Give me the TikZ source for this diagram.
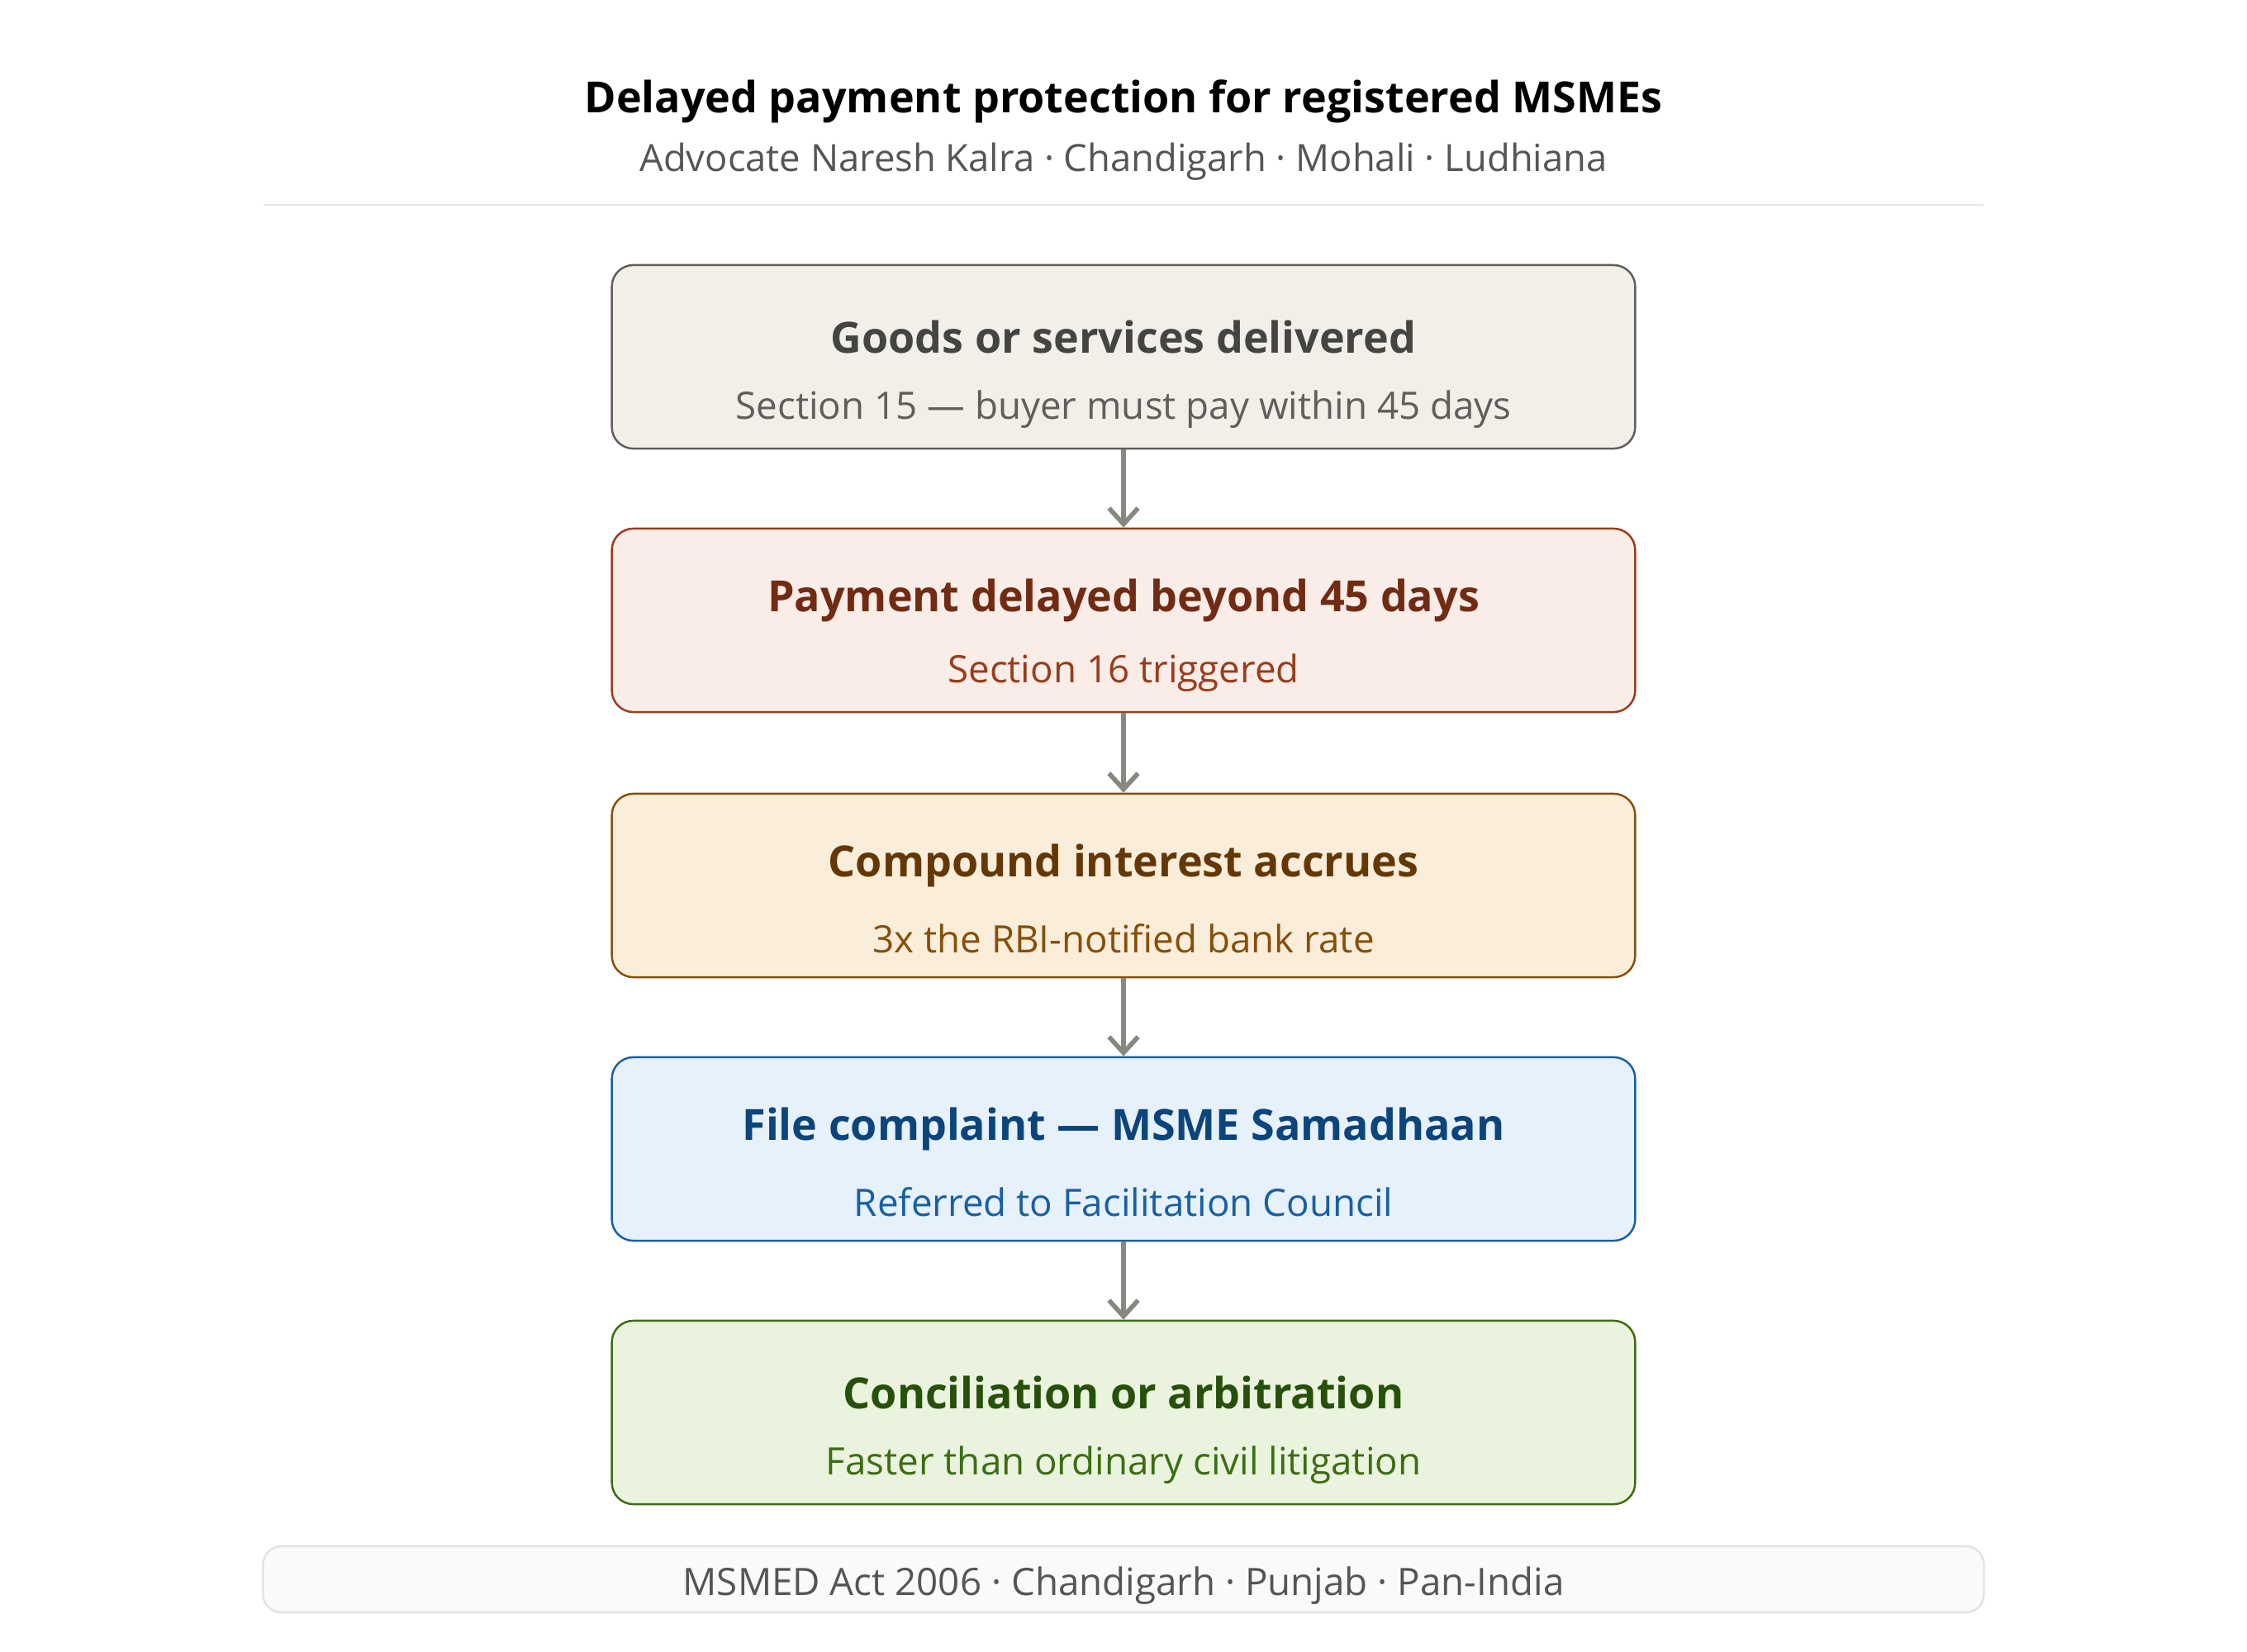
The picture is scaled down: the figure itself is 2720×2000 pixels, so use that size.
\documentclass[tikz,border=0pt]{standalone}
\usepackage{fontspec}
\setmainfont{Open Sans}
\usetikzlibrary{arrows.meta}
\definecolor{f1}{HTML}{F1EFE8}\definecolor{b1}{HTML}{5F5E5A}\definecolor{t1}{HTML}{444441}
\definecolor{f2}{HTML}{FAECE7}\definecolor{b2}{HTML}{993C1D}\definecolor{t2}{HTML}{712B13}
\definecolor{f3}{HTML}{FAEEDA}\definecolor{b3}{HTML}{854F0B}\definecolor{t3}{HTML}{633806}
\definecolor{f4}{HTML}{E6F1FB}\definecolor{b4}{HTML}{185FA5}\definecolor{t4}{HTML}{0C447C}
\definecolor{f5}{HTML}{EAF3DE}\definecolor{b5}{HTML}{3B6D11}\definecolor{t5}{HTML}{27500A}
\definecolor{arr}{HTML}{888780}
\definecolor{sub}{HTML}{555555}
\tikzset{
  x=0.01cm,y=-0.01cm,
  stepbox/.style={draw, rounded corners=0.26cm, line width=0.7pt, minimum width=12.38cm, minimum height=2.22cm, inner sep=0pt},
  boxtitle/.style={font=\fontsize{14.8}{18}\selectfont\bfseries},
  boxsub/.style={font=\fontsize{13}{15}\selectfont},
  flow/.style={draw=arr, line width=1.6pt, -{Straight Barb[length=5.5pt,width=10pt,line width=1.6pt]}}
}
\begin{document}
\begin{tikzpicture}
\useasboundingbox[fill=white] (0,0) rectangle (2720,2000);
\node[font=\fontsize{14.8}{18}\selectfont\bfseries, text=black] (title) at (1360,123) {Delayed payment protection for registered MSMEs};
\node[font=\fontsize{12.9}{15}\selectfont, text=sub] (subtitle) at (1360,196) {Advocate Naresh Kalra · Chandigarh · Mohali · Ludhiana};
\draw[draw=black!10, line width=0.6pt] (319,248) -- (2401,248);
% boxes
\node[stepbox, draw=b1, fill=f1] (n1) at (1360,432) {};
\node[stepbox, draw=b2, fill=f2] (n2) at (1360,751) {};
\node[stepbox, draw=b3, fill=f3] (n3) at (1360,1072) {};
\node[stepbox, draw=b4, fill=f4] (n4) at (1360,1391) {};
\node[stepbox, draw=b5, fill=f5] (n5) at (1360,1710) {};
\node[boxtitle, text=t1] (n1t) at (1360,408) {Goods or services delivered};
\node[boxsub, text=b1] (n1s) at (1360,496) {Section 15 — buyer must pay within 45 days};
\node[boxtitle, text=t2] (n2t) at (1360,727) {Payment delayed beyond 45 days};
\node[boxsub, text=b2] (n2s) at (1360,815) {Section 16 triggered};
\node[boxtitle, text=t3] (n3t) at (1360,1048) {Compound interest accrues};
\node[boxsub, text=b3] (n3s) at (1360,1136) {3x the RBI-notified bank rate};
\node[boxtitle, text=t4] (n4t) at (1360,1367) {File complaint — MSME Samadhaan};
\node[boxsub, text=b4] (n4s) at (1360,1455) {Referred to Facilitation Council};
\node[boxtitle, text=t5] (n5t) at (1360,1686) {Conciliation or arbitration};
\node[boxsub, text=b5] (n5s) at (1360,1774) {Faster than ordinary civil litigation};
% arrows
\draw[flow] (n1.south) -- (n2.north);
\draw[flow] (n2.south) -- (n3.north);
\draw[flow] (n3.south) -- (n4.north);
\draw[flow] (n4.south) -- (n5.north);
% footer
\node[draw=black!12, fill=black!2, rounded corners=0.22cm, line width=0.6pt, minimum width=20.82cm, minimum height=0.8cm, inner sep=0pt] (foot) at (1360,1912) {};
\node[font=\fontsize{13}{15}\selectfont, text=sub] (foott) at (1360,1920) {MSMED Act 2006 · Chandigarh · Punjab · Pan-India};
\end{tikzpicture}
\end{document}
